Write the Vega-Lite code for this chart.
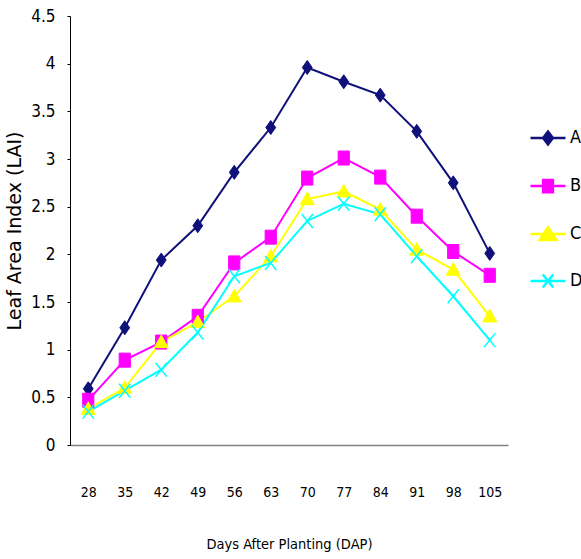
{
  "$schema": "https://vega.github.io/schema/vega-lite/v6.json",
  "autosize": {"type": "none"},
  "padding": {"left": 70, "top": 16, "right": 73, "bottom": 114},
  "width": 438,
  "height": 429,
  "background": "white",
  "config": {"view": {"stroke": null}, "font": "DejaVu Sans Condensed, Liberation Sans"},
  "data": {"values": [
    {"dap": 28, "series": "A", "lai": 0.59}, {"dap": 35, "series": "A", "lai": 1.23}, {"dap": 42, "series": "A", "lai": 1.94}, {"dap": 49, "series": "A", "lai": 2.30}, {"dap": 56, "series": "A", "lai": 2.86}, {"dap": 63, "series": "A", "lai": 3.33}, {"dap": 70, "series": "A", "lai": 3.96}, {"dap": 77, "series": "A", "lai": 3.81}, {"dap": 84, "series": "A", "lai": 3.67}, {"dap": 91, "series": "A", "lai": 3.29}, {"dap": 98, "series": "A", "lai": 2.75}, {"dap": 105, "series": "A", "lai": 2.01},
    {"dap": 28, "series": "B", "lai": 0.47}, {"dap": 35, "series": "B", "lai": 0.89}, {"dap": 42, "series": "B", "lai": 1.08}, {"dap": 49, "series": "B", "lai": 1.35}, {"dap": 56, "series": "B", "lai": 1.91}, {"dap": 63, "series": "B", "lai": 2.18}, {"dap": 70, "series": "B", "lai": 2.80}, {"dap": 77, "series": "B", "lai": 3.01}, {"dap": 84, "series": "B", "lai": 2.81}, {"dap": 91, "series": "B", "lai": 2.40}, {"dap": 98, "series": "B", "lai": 2.03}, {"dap": 105, "series": "B", "lai": 1.78},
    {"dap": 28, "series": "C", "lai": 0.38}, {"dap": 35, "series": "C", "lai": 0.60}, {"dap": 42, "series": "C", "lai": 1.08}, {"dap": 49, "series": "C", "lai": 1.29}, {"dap": 56, "series": "C", "lai": 1.56}, {"dap": 63, "series": "C", "lai": 1.98}, {"dap": 70, "series": "C", "lai": 2.58}, {"dap": 77, "series": "C", "lai": 2.66}, {"dap": 84, "series": "C", "lai": 2.47}, {"dap": 91, "series": "C", "lai": 2.05}, {"dap": 98, "series": "C", "lai": 1.84}, {"dap": 105, "series": "C", "lai": 1.35},
    {"dap": 28, "series": "D", "lai": 0.35}, {"dap": 35, "series": "D", "lai": 0.57}, {"dap": 42, "series": "D", "lai": 0.79}, {"dap": 49, "series": "D", "lai": 1.18}, {"dap": 56, "series": "D", "lai": 1.77}, {"dap": 63, "series": "D", "lai": 1.91}, {"dap": 70, "series": "D", "lai": 2.35}, {"dap": 77, "series": "D", "lai": 2.53}, {"dap": 84, "series": "D", "lai": 2.42}, {"dap": 91, "series": "D", "lai": 1.98}, {"dap": 98, "series": "D", "lai": 1.56}, {"dap": 105, "series": "D", "lai": 1.10}
  ]},
  "encoding": {
    "x": {
      "field": "dap", "type": "ordinal",
      "scale": {"type": "point", "padding": 0.5, "domain": [28, 35, 42, 49, 56, 63, 70, 77, 84, 91, 98, 105]},
      "axis": {
        "title": "Days After Planting (DAP)", "labelAngle": 0, "ticks": false,
        "domainColor": "#808080", "domainWidth": 1.5,
        "labelFontSize": 14, "labelColor": "#000", "labelPadding": 40,
        "titleFontSize": 14.5, "titleFontWeight": "normal", "titleColor": "#000", "titlePadding": 38
      }
    },
    "y": {
      "field": "lai", "type": "quantitative",
      "scale": {"domain": [0, 4.5], "nice": false, "zero": true},
      "axis": {
        "title": "Leaf Area Index (LAI)", "values": [0, 0.5, 1, 1.5, 2, 2.5, 3, 3.5, 4, 4.5], "format": "~g",
        "grid": false, "domainColor": "#000", "tickColor": "#000", "tickSize": 3,
        "labelFontSize": 17, "labelColor": "#000", "labelPadding": 12,
        "titleFont": "DejaVu Sans", "titleFontSize": 19, "titleFontWeight": "normal", "titleColor": "#000", "titlePadding": 6
      }
    }
  },
  "layer": [
    {
      "mark": {"type": "line", "strokeWidth": 2},
      "encoding": {
        "color": {
          "field": "series", "type": "nominal",
          "scale": {"domain": ["A", "B", "C", "D"], "range": ["#10107a", "#ff00ff", "#ffff00", "#00ffff"]},
          "legend": {
            "title": null, "orient": "none", "legendX": 459, "legendY": 103,
            "padding": 0, "symbolSize": 1225, "symbolStrokeWidth": 2, "rowPadding": 17, "labelOffset": 3,
            "labelFontSize": 18, "labelColor": "#000",
            "encode": {
              "symbols": {
                "update": {
                  "shape": {"signal": "datum.value == 'A' ? 'M-1,0L1,0M0,-0.37L0.28,0L0,0.37L-0.28,0Z' : datum.value == 'B' ? 'M-1,0L1,0M-0.28,-0.35L0.28,-0.35L0.28,0.35L-0.28,0.35Z' : datum.value == 'C' ? 'M-1,0L1,0M0,-0.38L0.48,0.34L-0.48,0.34Z' : 'M-1,0L1,0M-0.3,-0.37L0.3,0.37M-0.3,0.37L0.3,-0.37'"},
                  "fill": {"signal": "datum.value == 'A' ? '#10107a' : datum.value == 'B' ? '#ff00ff' : datum.value == 'C' ? '#ffff00' : 'transparent'"},
                  "stroke": {"signal": "datum.value == 'A' ? '#10107a' : datum.value == 'B' ? '#ff00ff' : datum.value == 'C' ? '#ffff00' : '#00ffff'"},
                  "strokeWidth": {"value": 2.5},
                  "opacity": {"value": 1}
                }
              }
            }
          }
        }
      }
    },
    {
      "transform": [{"filter": {"field": "series", "equal": "A"}}],
      "mark": {"type": "point", "shape": "M0,-1L0.7,0L0,1L-0.7,0Z", "size": 196, "fill": "#10107a", "stroke": "#10107a", "strokeWidth": 1, "opacity": 1, "fillOpacity": 1}
    },
    {
      "transform": [{"filter": {"field": "series", "equal": "B"}}],
      "mark": {"type": "point", "shape": "M-0.8,-1L0.8,-1L0.8,1L-0.8,1Z", "size": 196, "fill": "#ff00ff", "stroke": "#ff00ff", "strokeWidth": 1, "opacity": 1, "fillOpacity": 1}
    },
    {
      "transform": [{"filter": {"field": "series", "equal": "C"}}],
      "mark": {"type": "point", "shape": "M0,-1L1,0.8L-1,0.8Z", "size": 196, "fill": "#ffff00", "stroke": "#ffff00", "strokeWidth": 1, "opacity": 1, "fillOpacity": 1}
    },
    {
      "transform": [{"filter": {"field": "series", "equal": "D"}}],
      "mark": {"type": "point", "shape": "M-0.8,-1L0.8,1M-0.8,1L0.8,-1", "size": 196, "fill": "transparent", "stroke": "#00ffff", "strokeWidth": 1.5, "opacity": 1}
    }
  ]
}
